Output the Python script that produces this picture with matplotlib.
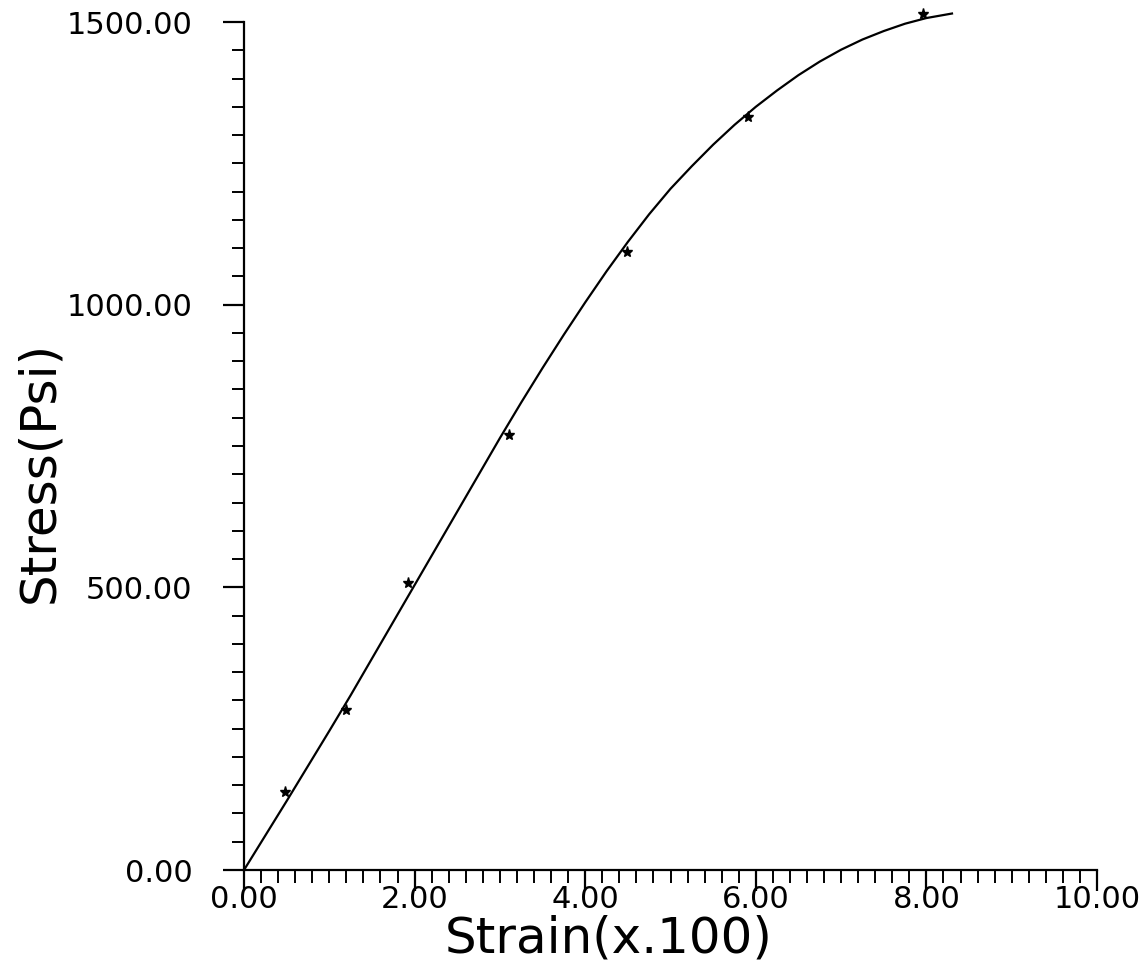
import matplotlib
matplotlib.use("Agg")
import matplotlib.pyplot as plt
from matplotlib.ticker import MultipleLocator, FormatStrFormatter

# Measured data points (strain x100, stress psi)
strain_pts = [0.48, 1.20, 1.92, 3.11, 4.49, 5.91, 7.96]
stress_pts = [138, 283, 508, 769, 1093, 1332, 1514]

# Fitted curve
curve_x = [0.0, 0.25, 0.5, 0.75, 1.0, 1.25, 1.5, 1.75, 2.0, 2.25, 2.5, 2.75,
           3.0, 3.25, 3.5, 3.75, 4.0, 4.25, 4.5, 4.75, 5.0, 5.25, 5.5, 5.75,
           6.0, 6.25, 6.5, 6.75, 7.0, 7.25, 7.5, 7.75, 8.0, 8.3]
curve_y = [0, 61, 122, 184, 246, 309, 374, 439, 504, 569, 634, 699,
           764, 827, 888, 947, 1004, 1059, 1111, 1160, 1205, 1245, 1283, 1318,
           1350, 1379, 1406, 1430, 1451, 1469, 1484, 1497, 1507, 1515]

x_label = "Strain(x.100)"
y_label = "Stress(Psi)"

fig = plt.figure(figsize=(11.41, 9.68), dpi=100)
ax = fig.add_axes([244/1141, 98/968, 853/1141, 848/968])

ax.plot(curve_x, curve_y, color="black", lw=1.6, solid_joinstyle="round", clip_on=False)
ax.plot(strain_pts, stress_pts, linestyle="none", marker="*", color="black",
        markersize=8, clip_on=False)

ax.set_xlim(0, 10)
ax.set_ylim(0, 1500)
for s in ["top", "right"]:
    ax.spines[s].set_visible(False)
for s in ["left", "bottom"]:
    ax.spines[s].set_linewidth(1.6)

ax.xaxis.set_major_locator(MultipleLocator(2))
ax.xaxis.set_minor_locator(MultipleLocator(0.2))
ax.yaxis.set_major_locator(MultipleLocator(500))
ax.yaxis.set_minor_locator(MultipleLocator(50))
ax.xaxis.set_major_formatter(FormatStrFormatter("%.2f"))
ax.yaxis.set_major_formatter(FormatStrFormatter("%.2f"))

ax.tick_params(which="major", direction="out", length=15, width=1.6, labelsize=22, colors="black")
ax.tick_params(which="minor", direction="out", length=9, width=1.4)
ax.tick_params(axis="x", which="major", pad=-4)
ax.tick_params(axis="y", which="major", pad=22)

ax.set_xlabel(x_label, fontsize=36)
ax.set_ylabel(y_label, fontsize=36)
ax.xaxis.set_label_coords(0.427, -0.052)
ax.yaxis.set_label_coords(-0.212, 0.469)

fig.savefig("out.png", dpi=100)
